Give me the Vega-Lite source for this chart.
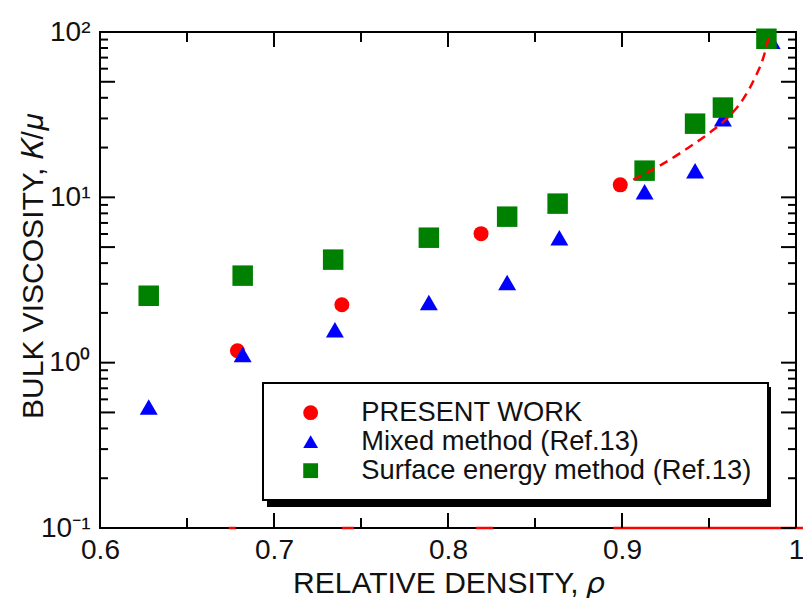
{
  "$schema": "https://vega.github.io/schema/vega-lite/v6.json",
  "width": 696,
  "height": 496,
  "autosize": "none",
  "padding": {"left": 100, "top": 32, "right": 7, "bottom": 80},
  "background": "white",
  "config": {
    "view": {"stroke": "black", "strokeWidth": 2},
    "axis": {
      "domain": false,
      "grid": false,
      "ticks": false,
      "labelFont": "Liberation Sans",
      "labelFontSize": 28,
      "labelColor": "#111111",
      "titleFont": "Liberation Sans",
      "titleFontSize": 30,
      "titleFontWeight": "normal",
      "titleColor": "#111111",
      "labelOverlap": false,
      "labelFlush": false
    },
    "legend": {"strokeWidth": 2}
  },
  "datasets": {
    "points": [
      {"rho": 0.679, "kmu": 1.18, "series": "PRESENT WORK"},
      {"rho": 0.739, "kmu": 2.24, "series": "PRESENT WORK"},
      {"rho": 0.819, "kmu": 6.03, "series": "PRESENT WORK"},
      {"rho": 0.899, "kmu": 11.9, "series": "PRESENT WORK"},
      {"rho": 0.628, "kmu": 0.54, "series": "Mixed method (Ref.13)"},
      {"rho": 0.682, "kmu": 1.12, "series": "Mixed method (Ref.13)"},
      {"rho": 0.735, "kmu": 1.58, "series": "Mixed method (Ref.13)"},
      {"rho": 0.789, "kmu": 2.31, "series": "Mixed method (Ref.13)"},
      {"rho": 0.834, "kmu": 3.05, "series": "Mixed method (Ref.13)"},
      {"rho": 0.864, "kmu": 5.7, "series": "Mixed method (Ref.13)"},
      {"rho": 0.913, "kmu": 10.8, "series": "Mixed method (Ref.13)"},
      {"rho": 0.942, "kmu": 14.5, "series": "Mixed method (Ref.13)"},
      {"rho": 0.958, "kmu": 29.9, "series": "Mixed method (Ref.13)"},
      {"rho": 0.986, "kmu": 88, "series": "Mixed method (Ref.13)"},
      {"rho": 0.628, "kmu": 2.54, "series": "Surface energy method (Ref.13)"},
      {"rho": 0.682, "kmu": 3.36, "series": "Surface energy method (Ref.13)"},
      {"rho": 0.734, "kmu": 4.2, "series": "Surface energy method (Ref.13)"},
      {"rho": 0.789, "kmu": 5.7, "series": "Surface energy method (Ref.13)"},
      {"rho": 0.834, "kmu": 7.64, "series": "Surface energy method (Ref.13)"},
      {"rho": 0.863, "kmu": 9.16, "series": "Surface energy method (Ref.13)"},
      {"rho": 0.913, "kmu": 14.5, "series": "Surface energy method (Ref.13)"},
      {"rho": 0.942, "kmu": 27.9, "series": "Surface energy method (Ref.13)"},
      {"rho": 0.958, "kmu": 34.9, "series": "Surface energy method (Ref.13)"},
      {"rho": 0.983, "kmu": 91, "series": "Surface energy method (Ref.13)"}
    ],
    "fit": [
      {"rho": 0.9065, "kmu": 12.8},
      {"rho": 0.922, "kmu": 15.6},
      {"rho": 0.937, "kmu": 19.6},
      {"rho": 0.9506, "kmu": 24.7},
      {"rho": 0.96, "kmu": 29.8},
      {"rho": 0.9697, "kmu": 39.4},
      {"rho": 0.977, "kmu": 54.5},
      {"rho": 0.981, "kmu": 68.7},
      {"rho": 0.985, "kmu": 99.5}
    ],
    "baseline": [
      {"from": 0.674, "to": 0.678},
      {"from": 0.739, "to": 0.746},
      {"from": 0.816, "to": 0.826},
      {"from": 0.895, "to": 1.004}
    ],
    "xmajor": [{"rho": 0.6}, {"rho": 0.7}, {"rho": 0.8}, {"rho": 0.9}, {"rho": 1.0}],
    "xminor": [{"rho": 0.65}, {"rho": 0.75}, {"rho": 0.85}, {"rho": 0.95}],
    "ymajor": [{"kmu": 0.1}, {"kmu": 0.5}, {"kmu": 1}, {"kmu": 5}, {"kmu": 10}, {"kmu": 50}, {"kmu": 100}],
    "yminor": [
      {"kmu": 0.2}, {"kmu": 0.3}, {"kmu": 0.4}, {"kmu": 0.6}, {"kmu": 0.7}, {"kmu": 0.8}, {"kmu": 0.9},
      {"kmu": 2}, {"kmu": 3}, {"kmu": 4}, {"kmu": 6}, {"kmu": 7}, {"kmu": 8}, {"kmu": 9},
      {"kmu": 20}, {"kmu": 30}, {"kmu": 40}, {"kmu": 60}, {"kmu": 70}, {"kmu": 80}, {"kmu": 90}
    ]
  },
  "layer": [
    {
      "data": {"name": "baseline"},
      "mark": {"type": "rule", "color": "#ff0000", "strokeWidth": 2.5},
      "encoding": {
        "x": {"field": "from", "type": "quantitative", "scale": {"domain": [0.6, 1], "nice": false, "zero": false}},
        "x2": {"field": "to"},
        "y": {"datum": 0.1, "type": "quantitative", "scale": {"type": "log", "domain": [0.1, 100], "nice": false}}
      }
    },
    {
      "data": {"name": "xmajor"},
      "mark": {"type": "rule", "color": "black", "strokeWidth": 2, "y2Offset": -15},
      "encoding": {"x": {"field": "rho", "type": "quantitative"}, "y": {"datum": 0.1, "type": "quantitative"}, "y2": {"datum": 0.1}}
    },
    {
      "data": {"name": "xmajor"},
      "mark": {"type": "rule", "color": "black", "strokeWidth": 2, "y2Offset": 15},
      "encoding": {"x": {"field": "rho", "type": "quantitative"}, "y": {"datum": 100, "type": "quantitative"}, "y2": {"datum": 100}}
    },
    {
      "data": {"name": "xminor"},
      "mark": {"type": "rule", "color": "black", "strokeWidth": 2, "y2Offset": -10},
      "encoding": {"x": {"field": "rho", "type": "quantitative"}, "y": {"datum": 0.1, "type": "quantitative"}, "y2": {"datum": 0.1}}
    },
    {
      "data": {"name": "xminor"},
      "mark": {"type": "rule", "color": "black", "strokeWidth": 2, "y2Offset": 10},
      "encoding": {"x": {"field": "rho", "type": "quantitative"}, "y": {"datum": 100, "type": "quantitative"}, "y2": {"datum": 100}}
    },
    {
      "data": {"name": "ymajor"},
      "mark": {"type": "rule", "color": "black", "strokeWidth": 2, "x2Offset": 15},
      "encoding": {"y": {"field": "kmu", "type": "quantitative"}, "x": {"datum": 0.6, "type": "quantitative"}, "x2": {"datum": 0.6}}
    },
    {
      "data": {"name": "ymajor"},
      "mark": {"type": "rule", "color": "black", "strokeWidth": 2, "x2Offset": -15},
      "encoding": {"y": {"field": "kmu", "type": "quantitative"}, "x": {"datum": 1.0, "type": "quantitative"}, "x2": {"datum": 1.0}}
    },
    {
      "data": {"name": "yminor"},
      "mark": {"type": "rule", "color": "black", "strokeWidth": 2, "x2Offset": 8},
      "encoding": {"y": {"field": "kmu", "type": "quantitative"}, "x": {"datum": 0.6, "type": "quantitative"}, "x2": {"datum": 0.6}}
    },
    {
      "data": {"name": "yminor"},
      "mark": {"type": "rule", "color": "black", "strokeWidth": 2, "x2Offset": -8},
      "encoding": {"y": {"field": "kmu", "type": "quantitative"}, "x": {"datum": 1.0, "type": "quantitative"}, "x2": {"datum": 1.0}}
    },
    {
      "data": {"name": "points"},
      "mark": {"type": "point", "filled": true, "opacity": 1},
      "encoding": {
        "x": {
          "field": "rho", "type": "quantitative",
          "axis": {
            "orient": "bottom", "values": [0.6, 0.7, 0.8, 0.9, 1], "labelPadding": 8,
            "labelExpr": "datum.value == 1 ? '1' : format(datum.value, '.1f')",
            "title": "RELATIVE DENSITY, 𝜌", "titleX": 348, "titleY": 64, "titleAlign": "center", "titleBaseline": "alphabetic", "titleAnchor": null
          }
        },
        "y": {
          "field": "kmu", "type": "quantitative",
          "axis": {
            "orient": "left", "values": [0.1, 1, 10, 100], "labelPadding": 10,
            "labelExpr": "datum.value == 100 ? '10²' : datum.value == 10 ? '10¹' : datum.value == 1 ? '10⁰' : '10⁻¹'",
            "title": "BULK VISCOSITY, 𝐾/𝜇", "titleX": -58, "titleY": 234, "titleAngle": -90, "titleAlign": "center", "titleBaseline": "alphabetic", "titleAnchor": null
          }
        },
        "color": {
          "field": "series", "type": "nominal",
          "scale": {"domain": ["PRESENT WORK", "Mixed method (Ref.13)", "Surface energy method (Ref.13)"], "range": ["#ff0000", "#0000ff", "#008000"]},
          "legend": {"title": null, "orient": "none", "legendX": 163, "legendY": 351, "fillColor": "white", "strokeColor": "black", "padding": 16, "symbolSize": 220, "symbolOffset": 18, "labelOffset": 37, "labelFont": "Liberation Sans", "labelFontSize": 27.3, "labelColor": "#111111", "labelLimit": 1000, "rowPadding": 1, "symbolStrokeWidth": 0, "zindex": 3}
        },
        "shape": {
          "field": "series", "type": "nominal",
          "scale": {"domain": ["PRESENT WORK", "Mixed method (Ref.13)", "Surface energy method (Ref.13)"], "range": ["circle", "triangle-up", "square"]},
          "legend": {"title": null, "orient": "none", "legendX": 163, "legendY": 351, "fillColor": "white", "strokeColor": "black", "padding": 16, "symbolSize": 220, "symbolOffset": 18, "labelOffset": 37, "labelFont": "Liberation Sans", "labelFontSize": 27.3, "labelColor": "#111111", "labelLimit": 1000, "rowPadding": 1, "symbolStrokeWidth": 0, "zindex": 3}
        },
        "size": {
          "field": "series", "type": "ordinal",
          "scale": {"domain": ["PRESENT WORK", "Mixed method (Ref.13)", "Surface energy method (Ref.13)"], "range": [225, 420, 210]},
          "legend": null
        }
      }
    },
    {
      "data": {"name": "points"},
      "mark": {"type": "point", "filled": true, "opacity": 0},
      "encoding": {
        "x": {"field": "rho", "type": "quantitative"},
        "y": {"field": "kmu", "type": "quantitative"},
        "color": {
          "field": "series", "type": "nominal",
          "scale": {"domain": ["PRESENT WORK", "Mixed method (Ref.13)", "Surface energy method (Ref.13)"], "range": ["black", "black", "black"]},
          "legend": {"title": null, "orient": "none", "legendX": 168, "legendY": 356, "fillColor": "black", "strokeColor": "black", "padding": 16, "symbolSize": 740, "symbolOffset": 0, "symbolOpacity": 0, "labelOffset": 442, "labelExpr": "''", "labelFontSize": 1, "rowPadding": 1, "symbolStrokeWidth": 0, "zindex": 2}
        }
      }
    },
    {
      "data": {"name": "fit"},
      "mark": {"type": "line", "color": "#ff0000", "strokeWidth": 2.5, "strokeDash": [9, 6], "interpolate": "monotone"},
      "encoding": {
        "x": {"field": "rho", "type": "quantitative"},
        "y": {"field": "kmu", "type": "quantitative"}
      }
    }
  ],
  "resolve": {
    "scale": {"color": "independent", "shape": "independent"},
    "legend": {"color": "independent", "shape": "independent"}
  }
}
